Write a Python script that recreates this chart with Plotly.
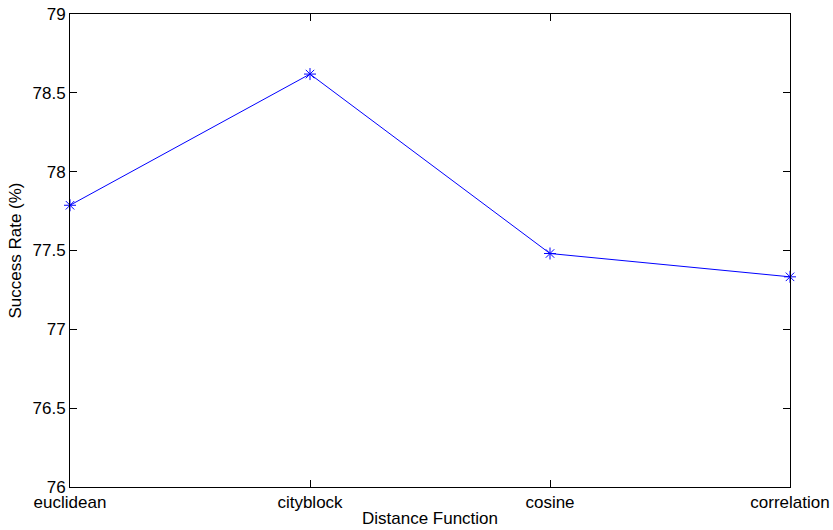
import plotly.graph_objects as go

# Success rate per distance function
distance_functions = ["euclidean", "cityblock", "cosine", "correlation"]
success_rate = [77.787, 78.619, 77.481, 77.333]
y_ticks = [76, 76.5, 77, 77.5, 78, 78.5, 79]
y_tick_text = ["76", "76.5", "77", "77.5", "78", "78.5", "79"]

FONT = "Liberation Sans, Arial, Helvetica, sans-serif"
FONT_SIZE = 17

fig = go.Figure(
    go.Scatter(
        x=distance_functions,
        y=success_rate,
        mode="lines+markers",
        line=dict(color="#0000ff", width=1),
        marker=dict(symbol="asterisk-open", size=10,
                    line=dict(color="#0000ff", width=1)),
        cliponaxis=False,
        showlegend=False,
    )
)

axis_common = dict(
    showline=True,
    linecolor="black",
    linewidth=1,
    mirror="ticks",
    ticks="inside",
    ticklen=7,
    tickwidth=1,
    tickcolor="black",
    showgrid=False,
    zeroline=False,
    tickfont=dict(family=FONT, size=FONT_SIZE, color="black"),
)

fig.update_xaxes(
    type="category",
    range=[0, 3],
    title=dict(text="Distance Function", standoff=0,
               font=dict(family=FONT, size=FONT_SIZE, color="black")),
    **axis_common,
)
fig.update_yaxes(
    range=[76, 79],
    tickvals=y_ticks,
    ticktext=y_tick_text,
    title=dict(text="Success Rate (%)", standoff=6,
               font=dict(family=FONT, size=FONT_SIZE, color="black")),
    **axis_common,
)

fig.update_layout(
    width=833,
    height=530,
    margin=dict(l=70, r=43, t=14, b=43, autoexpand=False),
    paper_bgcolor="white",
    plot_bgcolor="white",
    font=dict(family=FONT, size=FONT_SIZE, color="black"),
)

fig.write_html("out.html")
